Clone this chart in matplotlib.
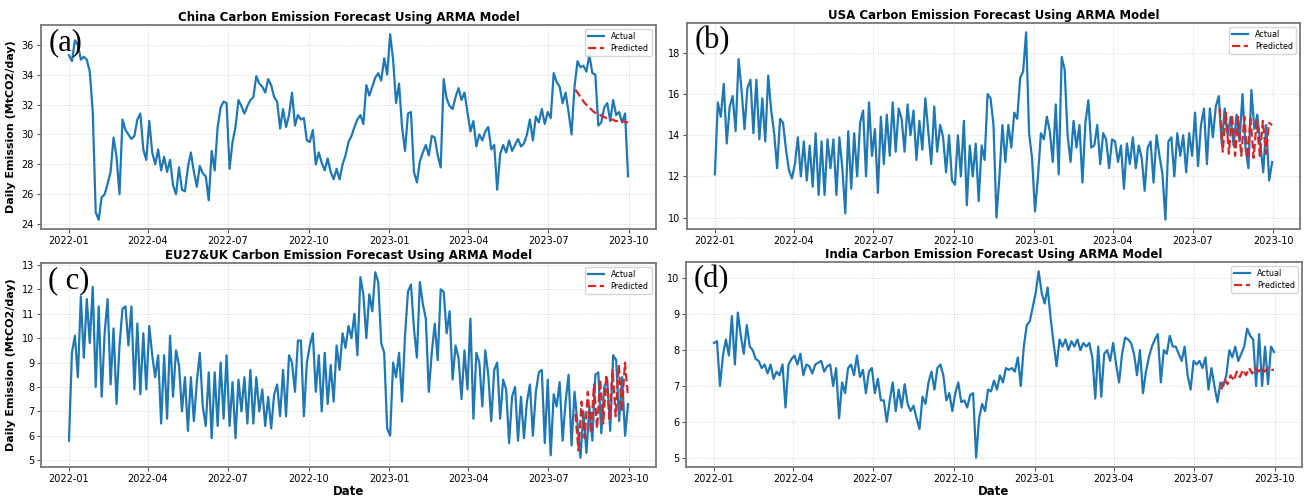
import matplotlib
matplotlib.use("Agg")
import matplotlib.pyplot as plt
import matplotlib.dates as mdates
import pandas as pd

# ---------------- data (about two readings per week, 9 per month) ----------------
start, end = "2022-01-01", "2023-09-30"
pred_start = "2023-08-01"

china_actual = [
    35.3, 34.9, 36.3, 36.0, 35.0, 35.2, 35.0, 34.2, 31.5,   # 2022-01
    24.8, 24.3, 25.8, 26.0, 26.7, 27.5, 29.8, 28.5, 26.0,   # 2022-02
    31.0, 30.3, 30.0, 29.7, 29.9, 31.0, 31.4, 29.0, 28.3,   # 2022-03
    30.9, 28.8, 28.0, 29.0, 27.6, 28.5, 27.5, 28.3, 26.6,   # 2022-04
    26.0, 27.8, 26.3, 26.2, 27.8, 28.8, 27.5, 26.5, 27.9,   # 2022-05
    27.4, 27.2, 25.6, 28.9, 27.6, 30.5, 31.8, 32.2, 32.1,   # 2022-06
    27.7, 29.5, 30.5, 32.3, 31.9, 31.4, 31.9, 32.3, 32.5,   # 2022-07
    33.9, 33.4, 33.2, 32.8, 33.7, 33.3, 32.5, 32.2, 30.4,   # 2022-08
    31.7, 30.5, 31.3, 32.8, 30.6, 31.3, 31.0, 31.1, 29.6,   # 2022-09
    29.5, 30.3, 28.0, 28.8, 28.1, 27.6, 28.4, 27.5, 27.0,   # 2022-10
    27.7, 27.0, 28.0, 28.6, 29.5, 29.9, 30.5, 31.0, 31.3,   # 2022-11
    30.7, 33.3, 32.6, 33.2, 33.8, 34.1, 33.6, 35.1, 34.0,   # 2022-12
    36.7, 35.0, 32.1, 33.4, 30.5, 28.9, 31.4, 31.5, 27.5,   # 2023-01
    26.8, 28.2, 28.8, 29.3, 28.6, 29.9, 29.8, 28.6, 27.8,   # 2023-02
    33.7, 32.4, 31.9, 31.7, 32.5, 33.1, 32.3, 32.8, 31.5,   # 2023-03
    30.2, 30.9, 29.2, 30.0, 29.6, 30.2, 30.5, 29.0, 29.3,   # 2023-04
    26.3, 28.7, 29.3, 28.8, 29.6, 28.9, 29.3, 29.7, 29.2,   # 2023-05
    29.4, 30.0, 31.0, 29.6, 31.2, 30.8, 31.7, 30.7, 31.5,   # 2023-06
    31.1, 34.1, 33.5, 33.2, 32.1, 32.8, 31.5, 30.0, 33.2,   # 2023-07
    34.9, 34.5, 34.6, 34.2, 35.3, 34.1, 34.0, 30.6, 30.8,   # 2023-08
    31.8, 32.1, 30.9, 32.3, 31.3, 31.5, 30.8, 31.4, 27.2,   # 2023-09
]
china_pred = [33.0, 32.7, 32.4, 32.1, 31.9, 31.7, 31.5, 31.4, 31.3,
              31.2, 31.1, 31.0, 31.0, 30.9, 30.9, 30.9, 30.85, 30.8]

usa_actual = [
    12.1, 15.6, 14.9, 16.5, 13.6, 15.4, 15.9, 14.2, 17.7,   # 2022-01
    16.2, 14.3, 16.3, 16.7, 14.1, 16.7, 13.8, 15.8, 13.7,   # 2022-02
    16.9, 15.2, 14.1, 12.4, 14.8, 14.6, 13.3, 12.3, 11.9,   # 2022-03
    12.6, 13.9, 12.0, 13.7, 11.8, 13.5, 11.5, 14.1, 11.1,   # 2022-04
    13.7, 11.1, 13.8, 12.4, 13.8, 11.1, 13.9, 12.4, 10.2,   # 2022-05
    14.2, 11.4, 14.1, 12.0, 14.6, 15.2, 12.0, 15.6, 13.0,   # 2022-06
    14.3, 11.2, 14.9, 12.6, 15.0, 13.0, 15.6, 13.2, 15.3,   # 2022-07
    14.8, 13.2, 15.5, 14.0, 15.2, 12.8, 14.7, 13.3, 15.8,   # 2022-08
    14.2, 12.6, 15.4, 13.2, 14.5, 13.9, 12.2, 14.0, 11.8,   # 2022-09
    11.6, 14.0, 12.0, 14.7, 10.6, 13.5, 12.0, 13.6, 10.8,   # 2022-10
    13.5, 12.8, 16.0, 15.8, 14.5, 10.0, 12.0, 14.5, 12.7,   # 2022-11
    14.5, 13.4, 15.1, 14.8, 16.8, 17.1, 19.0, 14.1, 12.9,   # 2022-12
    10.3, 12.0, 14.1, 13.8, 14.9, 14.2, 12.7, 15.5, 12.1,   # 2023-01
    17.8, 17.2, 14.0, 12.7, 14.7, 13.4, 14.5, 11.7, 14.6,   # 2023-02
    15.7, 13.4, 13.5, 14.5, 12.6, 14.1, 13.8, 12.4, 13.8,   # 2023-03
    13.7, 12.7, 13.5, 11.4, 13.6, 12.6, 13.9, 12.4, 13.5,   # 2023-04
    12.9, 11.3, 13.4, 13.7, 11.7, 14.0, 13.0, 12.1, 9.9,    # 2023-05
    13.7, 13.9, 12.0, 14.1, 13.0, 14.0, 12.2, 14.1, 13.0,   # 2023-06
    15.1, 12.5, 14.5, 15.3, 12.6, 15.3, 13.9, 15.4, 15.9,   # 2023-07
    13.6, 15.3, 14.0, 14.9, 13.5, 15.0, 13.7, 16.0, 13.4,   # 2023-08
    12.4, 16.2, 14.3, 15.0, 13.6, 12.2, 14.5, 11.8, 12.7,   # 2023-09
]
usa_pred = [15.3, 13.2, 15.1, 13.1, 15.0, 13.0, 14.9, 13.0, 14.9,
            12.9, 14.8, 12.9, 14.7, 13.0, 14.7, 13.1, 14.6, 14.5]

eu_actual = [
    5.8, 9.4, 10.1, 8.4, 11.7, 9.2, 11.6, 9.8, 12.1,        # 2022-01
    8.0, 11.3, 7.6, 10.2, 11.6, 8.1, 10.4, 7.3, 9.7,        # 2022-02
    11.2, 11.3, 9.7, 11.3, 7.9, 10.6, 7.7, 10.2, 7.9,       # 2022-03
    10.5, 9.3, 8.4, 9.3, 6.5, 9.3, 6.7, 10.1, 7.6,          # 2022-04
    9.5, 8.9, 7.0, 8.4, 6.2, 8.4, 6.6, 8.2, 9.4,            # 2022-05
    7.2, 6.4, 8.6, 5.9, 8.6, 6.4, 9.0, 6.7, 9.3,            # 2022-06
    6.4, 8.2, 5.9, 8.3, 7.0, 8.4, 6.5, 8.7, 6.5,            # 2022-07
    8.4, 7.0, 7.9, 6.4, 7.6, 6.3, 7.7, 8.1, 6.8,            # 2022-08
    8.7, 6.8, 9.3, 9.0, 7.8, 9.9, 9.9, 6.8, 9.0,            # 2022-09
    9.7, 10.2, 7.8, 9.3, 7.0, 9.4, 7.3, 8.9, 7.4,           # 2022-10
    9.7, 8.7, 10.2, 9.6, 10.5, 10.0, 11.0, 9.3, 12.5,       # 2022-11
    11.8, 10.0, 11.8, 11.1, 12.7, 12.3, 9.8, 9.4, 6.3,      # 2022-12
    6.0, 9.0, 8.4, 9.4, 7.4, 10.1, 11.9, 12.2, 10.4,        # 2023-01
    9.2, 12.3, 11.4, 10.8, 7.8, 9.4, 10.6, 9.1, 12.0,       # 2023-02
    11.9, 10.2, 11.1, 8.3, 9.7, 9.2, 7.5, 9.5, 7.9,         # 2023-03
    10.8, 6.7, 9.4, 9.0, 7.2, 9.5, 8.5, 6.6, 8.7,           # 2023-04
    9.0, 6.7, 8.3, 7.9, 5.7, 7.6, 8.0, 5.8, 7.6,            # 2023-05
    5.9, 7.4, 8.1, 6.0, 7.8, 8.6, 8.7, 5.7, 8.3,            # 2023-06
    5.2, 7.7, 7.2, 8.2, 5.8, 7.4, 8.5, 5.6, 7.8,            # 2023-07
    6.5, 5.1, 7.0, 5.3, 7.2, 5.8, 8.5, 8.6, 6.1,            # 2023-08
    8.0, 8.3, 6.2, 9.3, 9.1, 6.6, 8.4, 6.0, 7.3,            # 2023-09
]
eu_pred = [6.9, 5.4, 7.4, 5.9, 7.8, 6.1, 8.1, 6.3, 8.3,
           6.5, 8.5, 6.7, 8.7, 6.8, 8.9, 7.0, 9.0, 7.6]

india_actual = [
    8.2, 8.25, 7.0, 7.85, 8.3, 7.85, 8.95, 7.6, 9.05,       # 2022-01
    8.4, 7.9, 8.7, 8.1, 8.0, 7.75, 7.7, 7.5, 7.6,           # 2022-02
    7.35, 7.6, 7.2, 7.4, 7.3, 7.6, 6.4, 7.6, 7.75,          # 2022-03
    7.85, 7.6, 7.9, 7.3, 7.6, 7.55, 7.35, 7.6, 7.65,        # 2022-04
    7.7, 7.4, 7.55, 7.6, 7.0, 7.5, 6.1, 7.1, 6.8,           # 2022-05
    7.5, 7.6, 7.3, 7.85, 7.25, 7.45, 6.8, 7.4, 7.5,         # 2022-06
    6.8, 7.2, 6.6, 6.6, 6.0, 6.6, 7.1, 6.3, 6.9,            # 2022-07
    6.4, 7.05, 6.5, 6.3, 6.45, 6.1, 5.8, 6.7, 6.5,          # 2022-08
    7.1, 7.4, 6.9, 7.5, 7.6, 7.3, 6.6, 6.8, 6.3,            # 2022-09
    6.8, 7.1, 6.55, 6.6, 6.4, 6.75, 6.8, 5.0, 6.1,          # 2022-10
    6.5, 6.3, 6.9, 6.85, 7.15, 6.9, 7.3, 7.1, 7.5,          # 2022-11
    7.45, 7.5, 7.4, 7.8, 7.0, 8.1, 8.7, 8.8, 9.2,           # 2022-12
    9.6, 10.2, 9.6, 9.3, 9.75, 8.9, 8.2, 7.55, 8.3,         # 2023-01
    8.1, 8.3, 8.0, 8.25, 8.1, 8.3, 8.0, 8.2, 8.1,           # 2023-02
    8.2, 7.8, 6.65, 8.1, 6.7, 7.9, 8.0, 7.7, 8.2,           # 2023-03
    7.6, 7.1, 7.9, 8.35, 8.3, 8.2, 7.9, 7.3, 8.0,           # 2023-04
    6.8, 7.4, 7.8, 8.1, 8.3, 8.45, 7.1, 8.0, 7.9,           # 2023-05
    8.4, 8.1, 8.1, 7.9, 7.7, 8.1, 7.3, 6.9, 7.7,            # 2023-06
    7.6, 7.7, 7.5, 7.8, 6.9, 7.5, 7.0, 6.55, 7.1,           # 2023-07
    7.0, 7.3, 8.0, 7.8, 8.1, 7.7, 7.9, 8.1, 8.6,            # 2023-08
    8.4, 8.3, 7.0, 8.45, 7.0, 8.1, 7.05, 8.1, 7.95,         # 2023-09
]
india_pred = [6.9, 7.2, 7.05, 7.3, 7.15, 7.4, 7.25, 7.45, 7.3,
              7.5, 7.35, 7.5, 7.4, 7.5, 7.4, 7.5, 7.45, 7.45]

titles = [
    "China Carbon Emission Forecast Using ARMA Model",
    "USA Carbon Emission Forecast Using ARMA Model",
    "EU27&UK Carbon Emission Forecast Using ARMA Model",
    "India Carbon Emission Forecast Using ARMA Model",
]
panel_labels = ["(a)", "(b)", "( c)", "(d)"]
y_label = "Daily Emission (MtCO2/day)"
x_label = "Date"

# ---------------- figure ----------------
W, H = 1307, 496
fig = plt.figure(figsize=(W / 100, H / 100), dpi=100)

def px_axes(l, t, r, b):
    return fig.add_axes([l / W, 1 - b / H, (r - l) / W, (b - t) / H])

axes = [
    px_axes(41, 25, 656, 229),
    px_axes(687, 23, 1300, 229),
    px_axes(41, 263, 656, 467),
    px_axes(686, 262, 1302, 467),
]
series = [(china_actual, china_pred), (usa_actual, usa_pred),
          (eu_actual, eu_pred), (india_actual, india_pred)]

for i, (ax, (act, pred)) in enumerate(zip(axes, series)):
    d_act = pd.date_range(start, end, periods=len(act))
    d_pred = pd.date_range(pred_start, end, periods=len(pred))
    ax.plot(d_act, act, color="#1f77b4", lw=1.6, label="Actual")
    ax.plot(d_pred, pred, color="#d62728", lw=1.6, ls="--", label="Predicted")
    ax.set_title(titles[i], fontsize=8.5, fontweight="bold", pad=3)
    ax.xaxis.set_major_locator(mdates.MonthLocator(bymonth=[1, 4, 7, 10]))
    ax.xaxis.set_major_formatter(mdates.DateFormatter("%Y-%m"))
    ax.tick_params(labelsize=7, length=3, pad=2, color="#555555")
    ax.grid(True, ls=":", lw=0.7, color="#d4d4d4")
    for s in ax.spines.values():
        s.set_color("#777777")
        s.set_linewidth(1.3)
    leg = ax.legend(loc="upper right", fontsize=5.8, frameon=True,
                    handlelength=2, borderpad=0.4, labelspacing=0.3)
    leg.get_frame().set_edgecolor("#cccccc")
    ax.text(0.012, 0.985, panel_labels[i], transform=ax.transAxes,
            family=["Liberation Serif", "DejaVu Serif"], fontsize=22,
            va="top", ha="left")
    if i in (0, 2):
        ax.set_ylabel(y_label, fontsize=8, fontweight="bold", labelpad=4)
    if i in (2, 3):
        ax.set_xlabel(x_label, fontsize=8.5, fontweight="bold", labelpad=1)

fig.savefig("out.png", dpi=100)
